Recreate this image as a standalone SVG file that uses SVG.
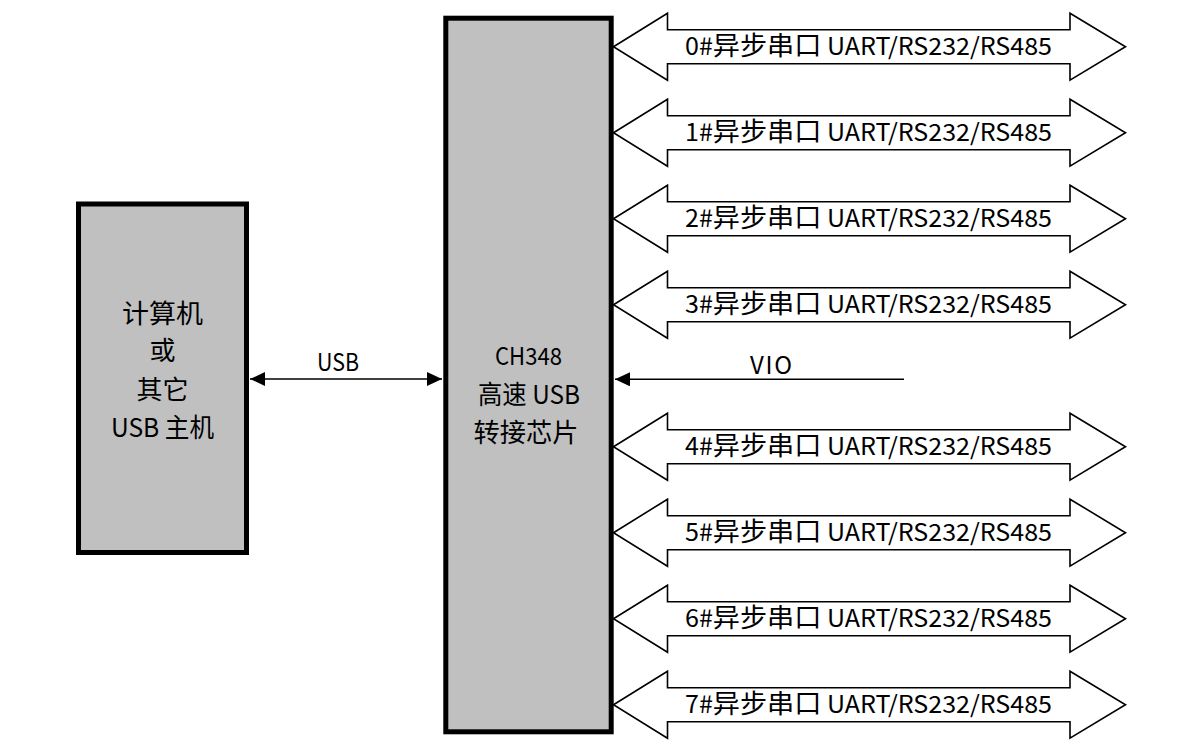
<svg xmlns="http://www.w3.org/2000/svg" xmlns:xlink="http://www.w3.org/1999/xlink" width="1200" height="753" viewBox="0 0 1200 753">
<style>
.box{fill:#C0C0C0;stroke:#000;stroke-width:5}
.dbl{fill:#fff;stroke:#000;stroke-width:1.6;stroke-linejoin:miter}
.t{font-family:"Noto Sans CJK SC","Liberation Sans",sans-serif;fill:#000}
.big{font-size:26px;text-anchor:middle}
.lat{font-size:24px;text-anchor:middle}
.ser{font-size:24px}
.cjk{font-size:26px}
.con{stroke:#000;stroke-width:1.6;fill:none}
</style>
<defs>
<path id="dblArrow" class="dbl" d="M613.5,0 L667.5,-33.5 L667.5,-17 L1070,-17 L1070,-33.5 L1125.5,0 L1070,33.5 L1070,17 L667.5,17 L667.5,33.5 Z"/>
<marker id="ah" viewBox="0 0 15 14" refX="15" refY="7" markerWidth="15" markerHeight="14" markerUnits="userSpaceOnUse" orient="auto-start-reverse">
<path d="M0,0 L15,7 L0,14 Z" fill="#000"/>
</marker>
</defs>
<rect width="1200" height="753" fill="#fff"/>

<g id="host">
<rect class="box" x="78.5" y="204" width="168" height="348.5"/>
<text class="t big" x="162.5" y="323" textLength="81" lengthAdjust="spacingAndGlyphs">计算机</text>
<text class="t big" x="162.5" y="360">或</text>
<text class="t big" x="162.5" y="399" textLength="52" lengthAdjust="spacingAndGlyphs">其它</text>
<text class="t big" x="162.5" y="437" textLength="103" lengthAdjust="spacingAndGlyphs">USB 主机</text>
</g>

<g id="ch348">
<rect class="box" x="445.8" y="18.2" width="165.4" height="713.6"/>
<text class="t lat" x="528.5" y="365" textLength="67" lengthAdjust="spacingAndGlyphs">CH348</text>
<text class="t big" x="529" y="404" textLength="102" lengthAdjust="spacingAndGlyphs">高速 USB</text>
<text class="t big" x="526" y="442" textLength="105" lengthAdjust="spacingAndGlyphs">转接芯片</text>
</g>

<g id="connectors">
<line class="con" x1="250" y1="379" x2="442" y2="379" marker-start="url(#ah)" marker-end="url(#ah)"/>
<text class="t lat" x="338" y="371" textLength="42" lengthAdjust="spacingAndGlyphs">USB</text>
<line class="con" x1="904" y1="379.3" x2="615" y2="379.3" marker-end="url(#ah)"/>
<text class="t lat" x="771" y="374.3" textLength="42" lengthAdjust="spacing">VIO</text>
</g>

<g id="uart0" transform="translate(0,46.7)"><use xlink:href="#dblArrow"/><text class="t ser" x="685" y="8" textLength="367" lengthAdjust="spacingAndGlyphs">0#<tspan class="cjk">异步串口</tspan> UART/RS232/RS485</text></g>
<g id="uart1" transform="translate(0,132.7)"><use xlink:href="#dblArrow"/><text class="t ser" x="685" y="8" textLength="367" lengthAdjust="spacingAndGlyphs">1#<tspan class="cjk">异步串口</tspan> UART/RS232/RS485</text></g>
<g id="uart2" transform="translate(0,218.7)"><use xlink:href="#dblArrow"/><text class="t ser" x="685" y="8" textLength="367" lengthAdjust="spacingAndGlyphs">2#<tspan class="cjk">异步串口</tspan> UART/RS232/RS485</text></g>
<g id="uart3" transform="translate(0,304.7)"><use xlink:href="#dblArrow"/><text class="t ser" x="685" y="8" textLength="367" lengthAdjust="spacingAndGlyphs">3#<tspan class="cjk">异步串口</tspan> UART/RS232/RS485</text></g>
<g id="uart4" transform="translate(0,446.7)"><use xlink:href="#dblArrow"/><text class="t ser" x="685" y="8" textLength="367" lengthAdjust="spacingAndGlyphs">4#<tspan class="cjk">异步串口</tspan> UART/RS232/RS485</text></g>
<g id="uart5" transform="translate(0,532.7)"><use xlink:href="#dblArrow"/><text class="t ser" x="685" y="8" textLength="367" lengthAdjust="spacingAndGlyphs">5#<tspan class="cjk">异步串口</tspan> UART/RS232/RS485</text></g>
<g id="uart6" transform="translate(0,618.7)"><use xlink:href="#dblArrow"/><text class="t ser" x="685" y="8" textLength="367" lengthAdjust="spacingAndGlyphs">6#<tspan class="cjk">异步串口</tspan> UART/RS232/RS485</text></g>
<g id="uart7" transform="translate(0,704.7)"><use xlink:href="#dblArrow"/><text class="t ser" x="685" y="8" textLength="367" lengthAdjust="spacingAndGlyphs">7#<tspan class="cjk">异步串口</tspan> UART/RS232/RS485</text></g>
</svg>
